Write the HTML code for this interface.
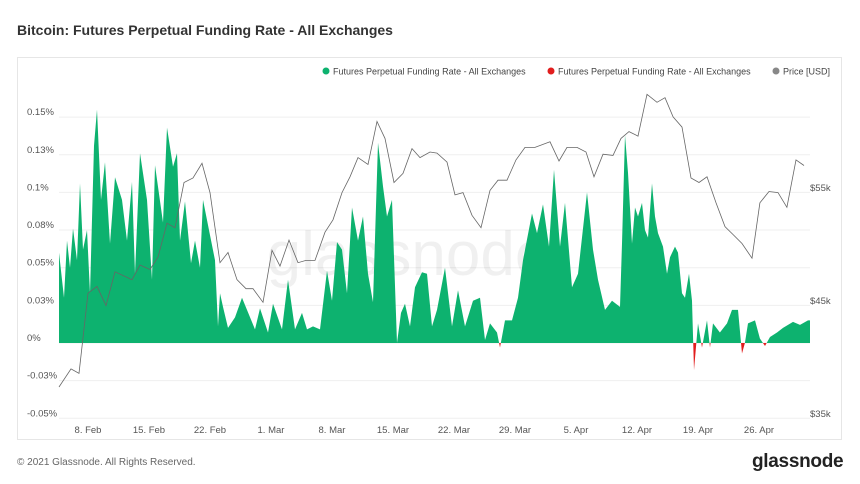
<!DOCTYPE html>
<html><head><meta charset="utf-8">
<style>
html,body{margin:0;padding:0;background:#fff;}
body{width:860px;height:484px;position:relative;overflow:hidden;font-family:"Liberation Sans",sans-serif;}
#title{position:absolute;left:17px;top:22px;font-size:14px;font-weight:bold;color:#333;letter-spacing:0;}
#panel{position:absolute;left:17px;top:57px;width:825px;height:383px;border:1px solid #e6e6e6;box-sizing:border-box;}
#foot{position:absolute;left:17px;top:457px;font-size:10px;color:#666;}
#logo{position:absolute;left:752px;top:451px;font-size:19px;font-weight:bold;color:#222;letter-spacing:-0.3px;}
svg{position:absolute;left:0;top:0;}
</style></head><body>
<div id="title">Bitcoin: Futures Perpetual Funding Rate - All Exchanges</div>
<div id="panel"></div>
<svg id="chart" width="860" height="484"></svg>
<div id="foot">© 2021 Glassnode. All Rights Reserved.</div>
<div id="logo">glassnode</div>
<script>
// funding rate (%) by day offset from 8 Feb
const rateDays=[-3.33,-2.75,-2.41,-2.07,-1.72,-1.26,-0.92,-0.57,-0.11,0.23,0.69,1.03,1.49,1.95,2.52,3.1,3.9,4.48,5.05,5.39,5.97,6.77,7.34,7.69,8.61,9.07,9.75,10.21,10.56,11.13,11.82,12.28,12.85,13.2,13.89,14.57,14.92,15.15,15.49,16.07,16.87,17.67,19.16,19.74,20.66,21.23,22.26,22.95,23.75,24.56,25.13,25.82,26.62,27.43,28,28.57,29.15,29.72,30.3,30.98,31.56,32.13,32.71,33.28,33.85,34.31,34.89,35.46,35.92,36.38,36.95,37.53,38.33,38.9,39.48,40.05,40.97,41.77,42.46,43.26,44.18,44.98,45.56,46.13,46.94,47.28,47.85,48.66,49.35,49.92,50.95,51.53,52.21,52.9,53.48,54.17,54.74,55.54,56.23,57.26,57.95,58.53,59.33,60.13,61.05,61.28,61.62,61.97,62.43,62.77,63.12,63.58,63.92,64.26,64.72,65.07,65.41,65.99,66.45,66.79,67.36,67.71,68.17,68.51,68.97,69.31,69.54,70.0,70.46,71.03,71.38,71.72,72.52,73.33,73.9,74.59,75.05,75.39,75.74,76.54,77.11,77.69,78.26,79.07,79.76,80.9,81.71,82.63,82.86];
const rateValues=[0.06,0.03,0.068,0.05,0.076,0.055,0.106,0.062,0.075,0.033,0.131,0.155,0.095,0.12,0.066,0.11,0.095,0.068,0.107,0.046,0.126,0.095,0.042,0.118,0.08,0.143,0.117,0.126,0.068,0.094,0.053,0.068,0.05,0.095,0.075,0.055,0.011,0.033,0.024,0.01,0.017,0.03,0.009,0.023,0.007,0.026,0.009,0.042,0.009,0.02,0.009,0.011,0.009,0.048,0.028,0.067,0.062,0.033,0.09,0.068,0.084,0.046,0.027,0.133,0.104,0.084,0.095,0.0,0.02,0.026,0.011,0.037,0.047,0.046,0.011,0.022,0.05,0.011,0.035,0.011,0.028,0.03,0.002,0.013,0.007,-0.003,0.015,0.015,0.03,0.055,0.086,0.073,0.092,0.064,0.115,0.064,0.093,0.037,0.046,0.1,0.062,0.042,0.022,0.028,0.024,0.066,0.138,0.113,0.066,0.09,0.084,0.093,0.075,0.07,0.106,0.084,0.073,0.064,0.046,0.057,0.064,0.06,0.033,0.03,0.046,0.028,-0.018,0.013,-0.003,0.015,-0.003,0.013,0.007,0.013,0.022,0.022,-0.007,0.0,0.013,0.015,0.003,-0.002,0.004,0.007,0.01,0.014,0.012,0.015,0.015];
// BTC price (k USD)
const priceDays=[-3.33,-1.95,-1.03,0,1.03,2.07,3.1,5.05,5.97,7.11,8.03,9.07,9.98,11.02,12.05,13.08,14.0,15.15,16.07,17.1,18.13,18.94,20.08,21.12,22.03,23.07,24.1,25.02,26.05,27.2,28.12,29.15,30.07,30.98,32.13,33.16,34.08,35.12,36.15,37.18,38.1,39.25,40.05,41.2,42.12,43.03,44.07,45.1,46.13,47.05,48.08,49.12,50.15,51.3,53.02,54.05,54.97,56.12,57.15,58.07,59.1,60.25,61.17,62.08,63.12,64.15,65.3,66.22,67.14,68.17,69.2,70.12,71.03,72.07,73.1,74.02,75.05,76.2,77.11,78.15,79.18,80.21,81.25,82.17];
const priceValues=[37.3,38.9,38.5,45.6,46.2,44.5,47.5,46.8,48.1,47.7,48.8,51.8,51.4,55.4,55.8,57.1,54.5,48.3,49.2,46.8,46.0,46.0,44.8,49.4,48.0,50.3,48.3,48.5,48.5,51.0,52.1,54.5,55.9,57.6,57.0,60.8,59.3,55.4,56.2,58.4,57.6,58.1,58.0,57.2,54.3,54.5,52.5,51.4,54.7,55.6,55.6,57.4,58.5,58.5,59.0,57.3,58.5,58.5,58.1,55.9,57.9,57.8,59.3,59.9,59.5,63.2,62.5,62.9,61.2,60.3,55.8,55.4,55.9,53.6,51.5,50.8,50.0,48.7,53.6,54.6,54.5,53.2,57.4,56.9];
const leftTicks=[0.15,0.125,0.1,0.075,0.05,0.025,0,-0.025,-0.05];
const leftTickLabels=["0.15%","0.13%","0.1%","0.08%","0.05%","0.03%","0%","-0.03%","-0.05%"];
const rightTicks=[55,45,35];
const rightTickLabels=["$55k","$45k","$35k"];
const xTickDays=[0,7,14,21,28,35,42,49,56,63,70,77];
const xTickLabels=["8. Feb","15. Feb","22. Feb","1. Mar","8. Mar","15. Mar","22. Mar","29. Mar","5. Apr","12. Apr","19. Apr","26. Apr"];

const NS="http://www.w3.org/2000/svg";
const svg=document.getElementById('chart');
const X=d=>88+d*8.714;
const Y=v=>343-v*1506;
const P=k=>300-(k-45)*11.3;
const X0=59,X1=810;
function mk(tag,attrs,parent){const e=document.createElementNS(NS,tag);for(const k in attrs)e.setAttribute(k,attrs[k]);(parent||svg).appendChild(e);return e;}

leftTicks.forEach((t,i)=>{
  const g=mk('line',{x1:X0,x2:X1,y1:Y(t),y2:Y(t),stroke:'#efefef','stroke-width':1});
  
  
  const tx=mk('text',{x:27,y:Y(t)-2,'font-size':9.5,fill:'#555','font-family':'Liberation Sans, sans-serif'});
  tx.textContent=leftTickLabels[i];
  
  
});
rightTicks.forEach((t,i)=>{
  const tx=mk('text',{x:810,y:P(t)+4,'font-size':9.5,fill:'#555','font-family':'Liberation Sans, sans-serif'});
  tx.textContent=rightTickLabels[i];
  
  
});
xTickDays.forEach((d,i)=>{
  const tx=mk('text',{x:X(d),y:433,'font-size':9.5,fill:'#555','text-anchor':'middle','font-family':'Liberation Sans, sans-serif'});
  tx.textContent=xTickLabels[i];
  
  
});
const wm=mk('text',{x:408,y:275,'font-size':62,fill:'#000','fill-opacity':0.06,'text-anchor':'middle','font-family':'Liberation Sans, sans-serif'});
wm.textContent='glassnode';



const defs=mk('defs',{});
const c1=mk('clipPath',{id:'pos'},defs);mk('rect',{x:0,y:0,width:860,height:Y(0)},c1);
const c2=mk('clipPath',{id:'neg'},defs);mk('rect',{x:0,y:Y(0),width:860,height:200},c2);
let d='M'+X(rateDays[0]).toFixed(1)+','+Y(0);
rateDays.forEach((t,i)=>{d+=' L'+X(t).toFixed(1)+','+Y(rateValues[i]).toFixed(1);});
d+=' L'+X(rateDays[rateDays.length-1]).toFixed(1)+','+Y(0)+' Z';
const ga=mk('path',{d:d,fill:'#0db26f','clip-path':'url(#pos)'});


const ra=mk('path',{d:d,fill:'#e11d1d','clip-path':'url(#neg)'});



let pd='';
priceDays.forEach((t,i)=>{pd+=(i?' L':'M')+X(t).toFixed(1)+','+P(priceValues[i]).toFixed(1);});
const pl=mk('path',{d:pd,fill:'none',stroke:'#666','stroke-width':0.8});



const legend=[[322,'#0db26f','Futures Perpetual Funding Rate - All Exchanges'],[547,'#e11d1d','Futures Perpetual Funding Rate - All Exchanges'],[772,'#888','Price [USD]']];
legend.forEach(l=>{
  const g=mk('g',{});
  
  
  mk('circle',{cx:l[0]+4,cy:71,r:3.5,fill:l[1]},g);
  const t=mk('text',{x:l[0]+11,y:74.5,'font-size':9,fill:'#444','font-family':'Liberation Sans, sans-serif'},g);
  t.textContent=l[2];
});
</script>
</body></html>
